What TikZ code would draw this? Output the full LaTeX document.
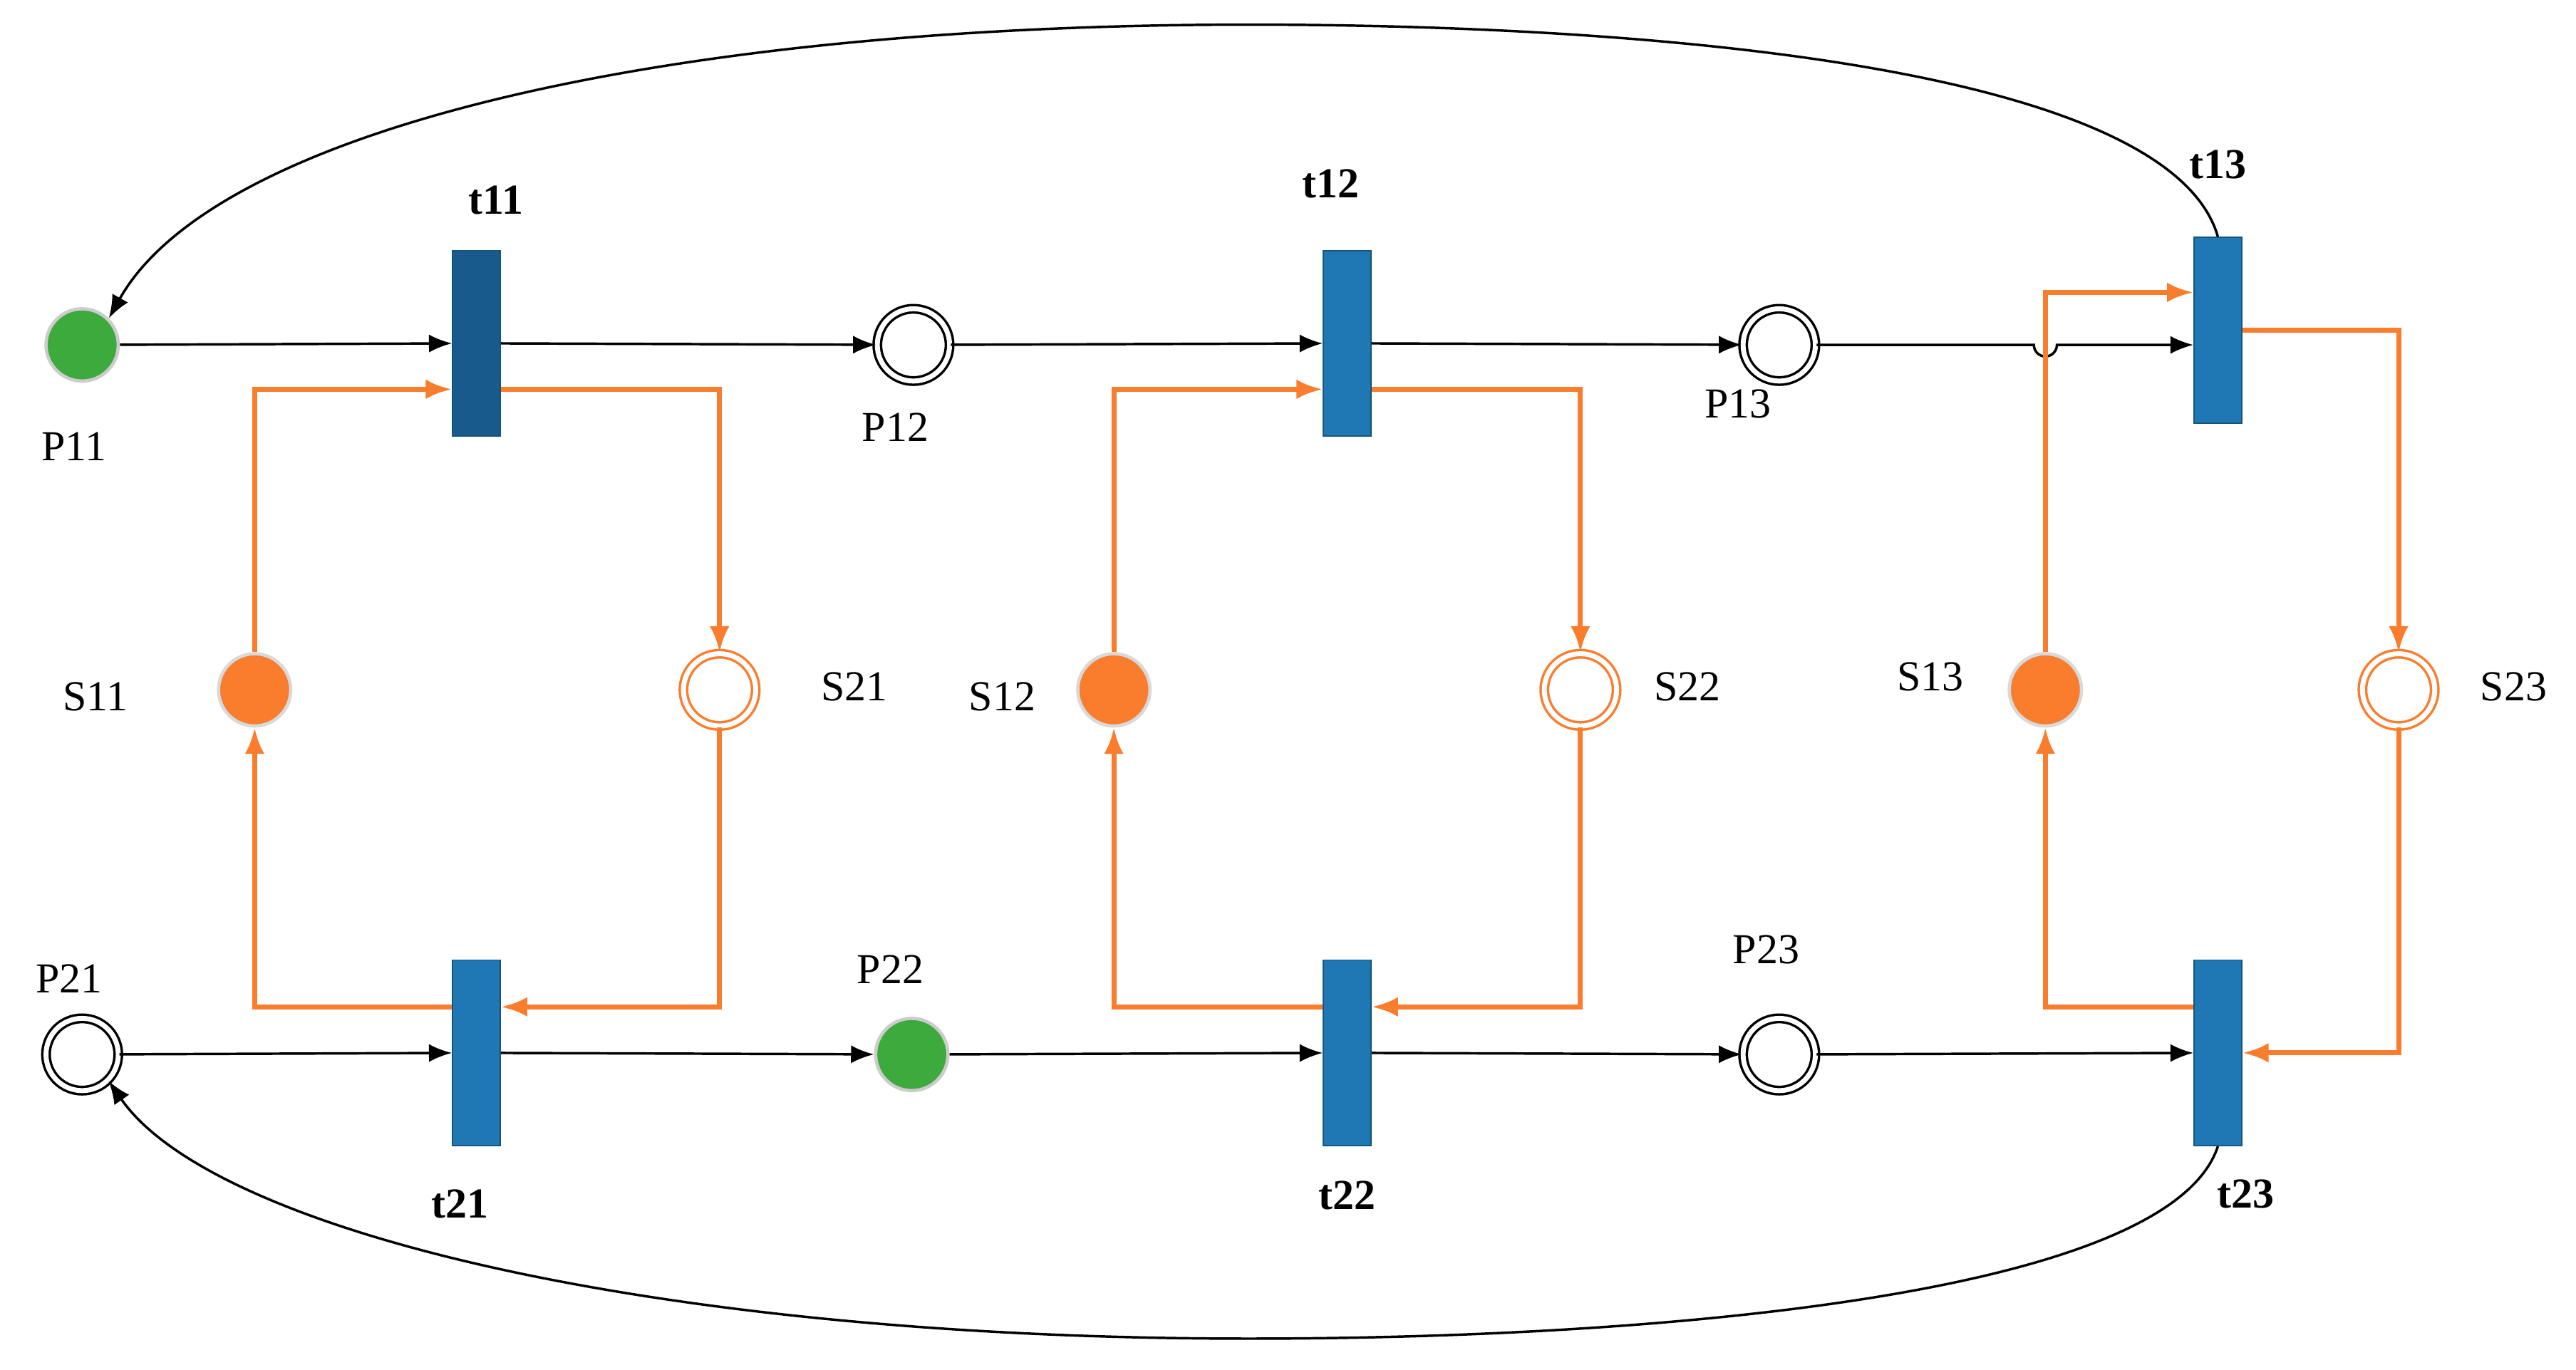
\documentclass[tikz,border=0pt]{standalone}
\usepackage{fontspec}
\setmainfont{Liberation Serif}
\usetikzlibrary{arrows.meta,calc}
\definecolor{tblue}{RGB}{31,120,180}
\definecolor{tdark}{RGB}{25,90,140}
\definecolor{org}{RGB}{250,125,45}
\definecolor{grn}{RGB}{60,170,60}
\begin{document}
\begin{tikzpicture}[x=1pt,y=-1pt,
  tr/.style={draw=tblue!70!black,fill=tblue,minimum width=29pt,minimum height=113pt,inner sep=0pt,line width=0.8pt},
  pl/.style={circle,draw=black,double=white,double distance=3pt,line width=1.5pt,minimum size=44pt,inner sep=0pt},
  gp/.style={circle,fill=grn,draw=gray!40,line width=2pt,minimum size=44pt,inner sep=0pt},
  op/.style={circle,draw=org,double=white,double distance=3pt,line width=1.5pt,minimum size=44pt,inner sep=0pt},
  of/.style={circle,fill=org,draw=gray!30,line width=2pt,minimum size=44pt,inner sep=0pt},
  bl/.style={line width=1.5pt,-{Latex[length=14pt,width=11pt]}},
  ol/.style={draw=org,line width=3pt,-{Latex[length=16pt,width=12pt]}},
  lab/.style={font=\fontsize{26}{30}\selectfont},
  tl/.style={font=\fontsize{26}{30}\selectfont\bfseries}]
\useasboundingbox (0,0) rectangle (1568,834);
% places
\node[gp] (P11) at (50,210) {};
\node[pl] (P12) at (556,210) {};
\node[pl] (P13) at (1083,210) {};
\node[pl] (P21) at (50,642) {};
\node[gp] (P22) at (555,642) {};
\node[pl] (P23) at (1083,642) {};
\node[of] (S11) at (155,420) {};
\node[op] (S21) at (438,420) {};
\node[of] (S12) at (678,420) {};
\node[op] (S22) at (962,420) {};
\node[of] (S13) at (1245,420) {};
\node[op] (S23) at (1460,420) {};
% transitions
\node[tr,fill=tdark] (t11) at (290,209) {};
\node[tr] (t12) at (820,209) {};
\node[tr] (t13) at (1350,201) {};
\node[tr] (t21) at (290,641) {};
\node[tr] (t22) at (820,641) {};
\node[tr] (t23) at (1350,641) {};
% labels
\node[lab] (lP11) at (45,272) {P11};
\node[lab] (lP12) at (545,260) {P12};
\node[lab] (lP13) at (1058,246) {P13};
\node[lab] (lP21) at (42,596) {P21};
\node[lab] (lP22) at (542,590) {P22};
\node[lab] (lP23) at (1075,578) {P23};
\node[lab] (lS11) at (58,424) {S11};
\node[lab] (lS21) at (520,418) {S21};
\node[lab] (lS12) at (610,424) {S12};
\node[lab] (lS22) at (1027,418) {S22};
\node[lab] (lS13) at (1175,412) {S13};
\node[lab] (lS23) at (1530,418) {S23};
\node[tl] (lt11) at (302,122) {t11};
\node[tl] (lt12) at (810,112) {t12};
\node[tl] (lt13) at (1350,100) {t13};
\node[tl] (lt21) at (280,733) {t21};
\node[tl] (lt22) at (820,728) {t22};
\node[tl] (lt23) at (1367,727) {t23};
% black arcs
\draw[bl] (P11) -- (t11);
\draw[bl] (t11) -- (P12);
\draw[bl] (P12) -- (t12);
\draw[bl] (t12) -- (P13);
\draw[bl] (P13.east) -- (1238,210) arc[start angle=180,end angle=0,radius=7] -- (t13.west |- P13);
\draw[bl] (P21) -- (t21);
\draw[bl] (t21) -- (P22);
\draw[bl] (P22) -- (t22);
\draw[bl] (t22) -- (P23);
\draw[bl] (P23) -- (t23);
\draw[bl] (t13.north) .. controls (1320,40) and (1000,15) .. (760,15) .. controls (400,15) and (130,80) .. (P11.north east);
\draw[bl] (t23.south) .. controls (1320,790) and (1000,815) .. (760,815) .. controls (400,815) and (130,750) .. (P21.south east);
% orange arcs
\draw[ol] (S11) |- ($(t11.west)+(0,28)$);
\draw[ol] ($(t11.east)+(0,28)$) -| (S21);
\draw[ol] (S21) |- ($(t21.east)+(0,-28)$);
\draw[ol] ($(t21.west)+(0,-28)$) -| (S11);
\draw[ol] (S12) |- ($(t12.west)+(0,28)$);
\draw[ol] ($(t12.east)+(0,28)$) -| (S22);
\draw[ol] (S22) |- ($(t22.east)+(0,-28)$);
\draw[ol] ($(t22.west)+(0,-28)$) -| (S12);
\draw[ol] (S13) |- ($(t13.west)+(0,-23)$);
\draw[ol] (t13.east) -| (S23);
\draw[ol] (S23) |- (t23.east);
\draw[ol] ($(t23.west)+(0,-28)$) -| (S13);
\end{tikzpicture}
\end{document}
